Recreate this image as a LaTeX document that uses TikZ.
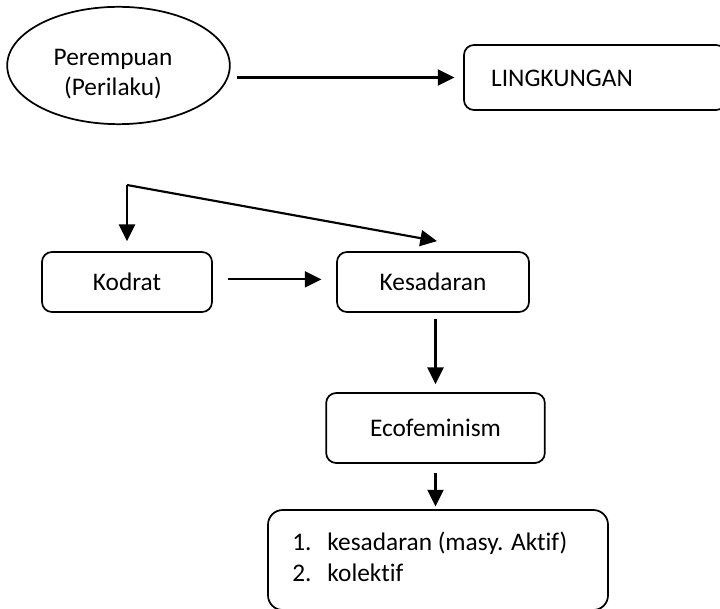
\documentclass[tikz,border=0pt]{standalone}
\usepackage{fontspec}
\setmainfont{Carlito}[Ligatures=NoCommon]
\usetikzlibrary{arrows.meta,shapes.geometric}
\begin{document}
\begin{tikzpicture}[x=0.75pt,y=-0.75pt,
  every node/.style={font=\fontsize{19}{23}\selectfont, inner sep=0pt},
  box/.style={draw, line width=1.3pt, rounded corners=7.5pt},
  arr/.style={line width=1.6pt, -{Triangle[length=12.5pt,width=12pt]}}]
\useasboundingbox (0,0) rectangle (720,609);
\clip (0,0) rectangle (720,609);
% nodes
\node[draw, line width=1.3pt, ellipse, minimum width=167pt, minimum height=88pt] (ell) at (118.5,65.5) {};
\node[align=center] (elltxt) at (113,74) {Perempuan\\(Perilaku)};
\node[box, minimum width=196.5pt, minimum height=48.75pt] (ling) at (595,77.5) {};
\node (lingtxt) at (562,78) {LINGKUNGAN};
\node[box, minimum width=127.5pt, minimum height=45pt] (kod) at (127,282) {Kodrat};
\node[box, minimum width=144pt, minimum height=45pt] (kes) at (433,282) {Kesadaran};
\node[box, minimum width=164pt, minimum height=52.5pt] (eco) at (435.5,428) {Ecofeminism};
\node[box, rounded corners=11pt, minimum width=255pt, minimum height=75pt] (bot) at (438,560) {};
\node[anchor=west] (bottxt) at (292,560) {\begin{tabular}{@{}l@{\hspace{12pt}}l@{}}1. & kesadaran (masy. Aktif)\\ 2. & kolektif\end{tabular}};
\coordinate (split) at (127,185);
% connectors
\draw[arr] ([xshift=4.5pt]ell.east |- ling.west) -- ([xshift=-6.5pt]ling.west);
\draw[arr] (split) -- ([yshift=7.5pt]kod.north);
\draw[arr] (split) -- ([yshift=7.5pt,xshift=3pt]kes.north);
\draw[arr, shorten <=11pt, shorten >=11pt] ([yshift=2pt]kod.east) -- ([yshift=2pt]kes.west);
\draw[arr, shorten <=4.5pt, shorten >=6pt] (kes.south -| eco.north) -- (eco.north);
\draw[arr, shorten <=6.5pt, shorten >=2pt] (eco.south) -- (eco.south |- bot.north);
\end{tikzpicture}
\end{document}
